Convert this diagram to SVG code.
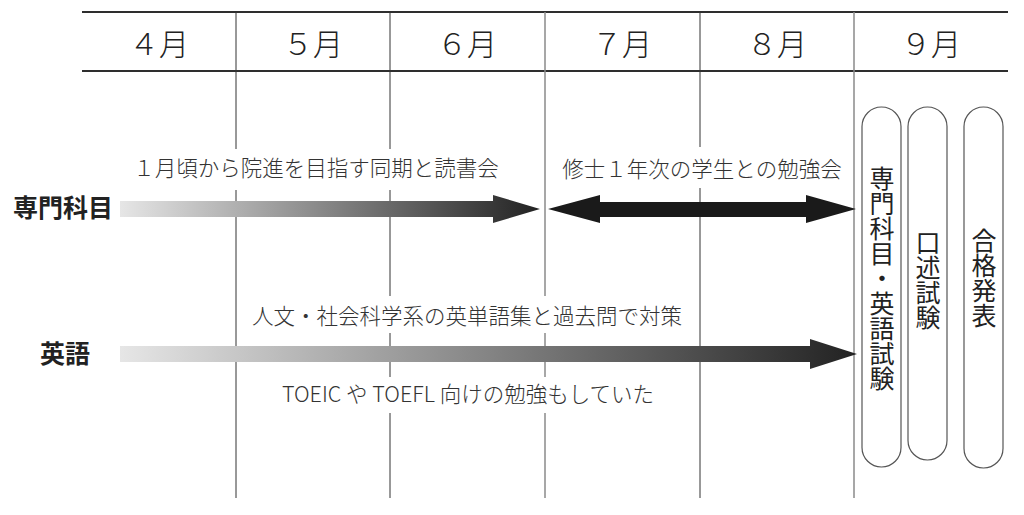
<svg xmlns="http://www.w3.org/2000/svg" width="1024" height="515" viewBox="0 0 1024 515">
<style>
.hline{stroke:#2e2e2e;stroke-width:2;fill:none}
.vline{stroke:#333;stroke-width:1;fill:none}
.vgrey{stroke:#8a8a8a;stroke-width:1.5;fill:none}
.month{font-family:"Noto Sans CJK JP","Noto Sans",sans-serif;font-size:30px;font-weight:300;fill:#222;text-anchor:middle}
.row{font-family:"Noto Sans CJK JP",sans-serif;font-size:25px;font-weight:bold;fill:#222}
.lbl{font-family:"Noto Sans CJK JP","Noto Sans",sans-serif;font-size:21.5px;font-weight:300;fill:#333;text-anchor:middle}
.knock{fill:#fff}
.pill{fill:#fff;stroke:#555;stroke-width:1.2}
.vtext{font-family:"Noto Sans CJK JP",sans-serif;font-size:25px;fill:#222;writing-mode:vertical-rl;text-anchor:middle}
</style>
<defs>
<linearGradient id="g1" gradientUnits="userSpaceOnUse" x1="120" y1="0" x2="540" y2="0">
<stop offset="0" stop-color="#e6e6e6"/>
<stop offset="1" stop-color="#222"/>
</linearGradient>
<linearGradient id="g2" gradientUnits="userSpaceOnUse" x1="120" y1="0" x2="857" y2="0">
<stop offset="0" stop-color="#e6e6e6"/>
<stop offset="1" stop-color="#222"/>
</linearGradient>
</defs>
<rect width="1024" height="515" fill="#fff"/>
<g id="grid">
<line class="hline" x1="82" y1="12" x2="1008" y2="12"/>
<line class="hline" x1="82" y1="71" x2="1008" y2="71"/>
<line class="vline" x1="236" y1="12" x2="236" y2="498"/>
<line class="vline" x1="390" y1="12" x2="390" y2="498"/>
<line class="vgrey" x1="545" y1="12" x2="545" y2="498"/>
<line class="vline" x1="700" y1="12" x2="700" y2="498"/>
<line class="vgrey" x1="854" y1="12" x2="854" y2="498"/>
</g>
<g id="months">
<text class="month" x="159" y="55">４月</text>
<text class="month" x="313" y="55">５月</text>
<text class="month" x="467" y="55">６月</text>
<text class="month" x="622" y="55">７月</text>
<text class="month" x="777" y="55">８月</text>
<text class="month" x="931" y="55">９月</text>
</g>
<g id="row-senmon">
<text class="row" x="13" y="217">専門科目</text>
</g>
<g id="row-eigo">
<text class="row" x="40" y="363">英語</text>
</g>
<g id="connectors">
<polygon fill="url(#g1)" points="120,201 493,201 493,195 540,209 493,223 493,217 120,217"/>
<polygon fill="#1a1a1a" points="548,209 600,195 600,202 806,202 806,195 856,209 806,223 806,217 600,217 600,223"/>
<polygon fill="url(#g2)" points="120,346 810,346 810,339 857,354 810,369 810,362 120,362"/>
</g>
<g id="label-dokusho">
<rect class="knock" x="130" y="149" width="372" height="41"/>
<text class="lbl" x="316" y="176">１月頃から院進を目指す同期と読書会</text>
</g>
<g id="label-benkyokai">
<rect class="knock" x="556" y="147" width="292" height="41"/>
<text class="lbl" x="702" y="177">修士１年次の学生との勉強会</text>
</g>
<g id="label-taisaku">
<rect class="knock" x="247" y="296" width="441" height="37"/>
<text class="lbl" x="467" y="324">人文・社会科学系の英単語集と過去問で対策</text>
</g>
<g id="label-toeic">
<rect class="knock" x="277" y="377" width="382" height="36"/>
<text class="lbl" x="468" y="402">TOEIC や TOEFL 向けの勉強もしていた</text>
</g>
<g id="exam-written">
<rect class="pill" x="862" y="107" width="39" height="360" rx="19.5" ry="19.5"/>
<text class="vtext" x="882" y="278">専門科目・英語試験</text>
</g>
<g id="exam-oral">
<rect class="pill" x="908" y="107" width="39" height="353" rx="19.5" ry="19.5"/>
<text class="vtext" x="928" y="280">口述試験</text>
</g>
<g id="result">
<rect class="pill" x="964" y="107" width="39" height="361" rx="19.5" ry="19.5"/>
<text class="vtext" x="984" y="278">合格発表</text>
</g>
</svg>
